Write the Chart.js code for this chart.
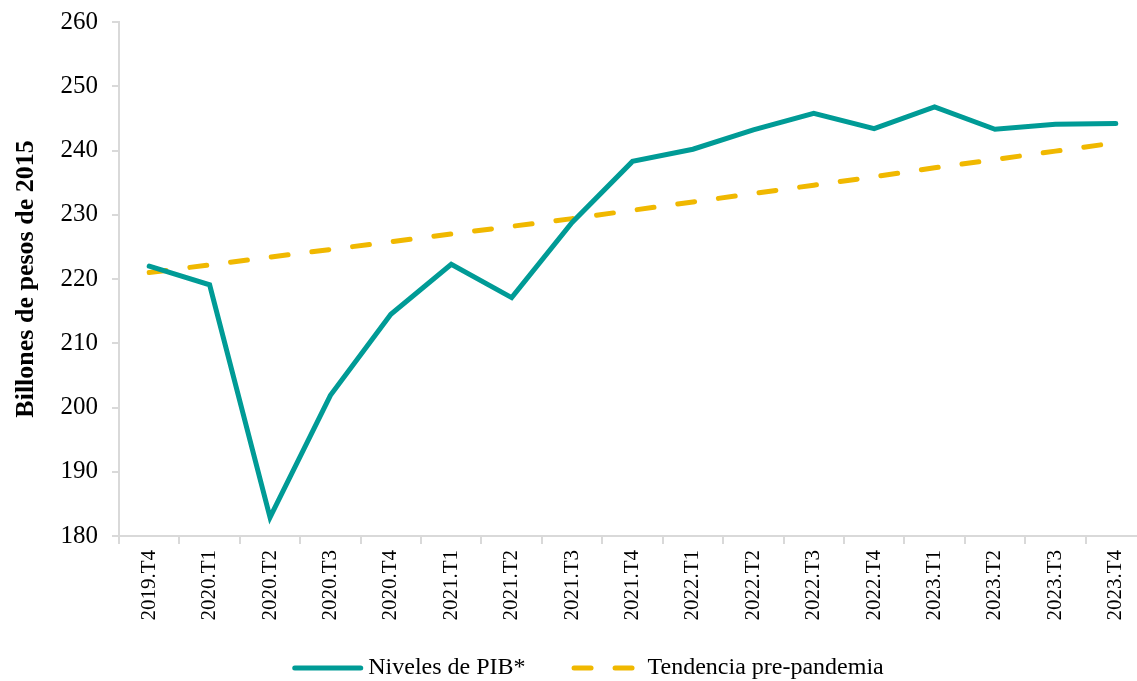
<!DOCTYPE html>
<html>
<head>
<meta charset="utf-8">
<script src="https://cdn.jsdelivr.net/npm/chart.js@4/dist/chart.umd.min.js"></script>
<style>
  html, body { margin: 0; padding: 0; background: #fff; overflow: hidden; }
  #wrap { position: relative; width: 1150px; height: 681px; }
</style>
</head>
<body>
<div id="wrap"><canvas id="pibChart"></canvas></div>
<script>
// trimestres
const quarters = ['2019.T4', '2020.T1', '2020.T2', '2020.T3', '2020.T4', '2021.T1', '2021.T2', '2021.T3',
  '2021.T4', '2022.T1', '2022.T2', '2022.T3', '2022.T4', '2023.T1', '2023.T2', '2023.T3', '2023.T4'];

// billones de pesos de 2015
const pibLevels = [222.0, 219.1, 182.9, 201.9, 214.5, 222.3, 217.1, 228.8, 238.3, 240.2, 243.2,
  245.8, 243.4, 246.8, 243.3, 244.1, 244.2];
const preTrend = [221.0, 222.2, 223.4, 224.6, 225.8, 227.0, 228.2, 229.4, 230.7, 232.0, 233.3,
  234.6, 235.9, 237.3, 238.6, 239.9, 241.2];

const yMin = 180;
const yMax = 260;
const yStep = 10;

const serif = "'Liberation Serif', 'Times New Roman', serif";
const axisGrey = '#d9d9d9';

// leyenda dibujada a mano: la de Chart.js no respeta el guion con pointStyle 'line'
const legendCenterX = 588;
const legendY = 668;

const bottomLegend = {
  id: 'bottomLegend',
  afterDraw(chart) {
    const c = chart.ctx;
    const boxW = 71, textGap = 5, itemGap = 46;
    c.save();
    c.font = `24px ${serif}`;
    c.textBaseline = 'middle';
    c.textAlign = 'left';
    const items = chart.data.datasets.map(ds => ({ ds, w: c.measureText(ds.label).width }));
    const total = items.reduce((s, it) => s + boxW + textGap + it.w, 0) + itemGap * (items.length - 1);
    let x = legendCenterX - total / 2;
    items.forEach(it => {
      const ds = it.ds;
      c.strokeStyle = ds.borderColor;
      c.lineWidth = ds.borderWidth;
      c.lineCap = 'round';
      c.setLineDash(ds.borderDash || []);
      c.beginPath();
      c.moveTo(x + 2.5, legendY);
      c.lineTo(x + boxW - 2.5, legendY);
      c.stroke();
      c.setLineDash([]);
      c.fillStyle = '#000';
      c.fillText(ds.label, x + boxW + textGap, legendY);
      x += boxW + textGap + it.w + itemGap;
    });
    c.restore();
  }
};

const ctx = document.getElementById('pibChart').getContext('2d');
const chart = new Chart(ctx, {
  type: 'line',
  data: {
    labels: quarters,
    datasets: [{
      label: 'Niveles de PIB*',
      data: pibLevels,
      borderColor: '#009b96',
      backgroundColor: '#009b96',
      borderWidth: 5,
      borderCapStyle: 'round',
      borderJoinStyle: 'miter',
      pointRadius: 0,
      tension: 0
    }, {
      label: 'Tendencia pre-pandemia',
      data: preTrend,
      borderColor: '#f0b800',
      backgroundColor: '#f0b800',
      borderWidth: 5,
      borderDash: [17, 24],
      borderCapStyle: 'round',
      pointRadius: 0,
      tension: 0
    }]
  },
  options: {
    responsive: true,
    maintainAspectRatio: false,
    animation: false,
    layout: { padding: { top: 22, right: 4, bottom: 35, left: 0 } },
    scales: {
      x: {
        offset: true,
        grid: { offset: true, drawOnChartArea: false, tickLength: 8, color: axisGrey, lineWidth: 2 },
        border: { color: axisGrey, width: 2 },
        ticks: {
          color: '#000',
          font: { family: serif, size: 21 },
          maxRotation: 90,
          minRotation: 90,
          autoSkip: false,
          padding: 6
        },
        afterFit(scale) { scale.height = 110; }
      },
      y: {
        min: yMin,
        max: yMax,
        grid: { drawOnChartArea: false, tickLength: 7, color: axisGrey, lineWidth: 2 },
        border: { color: axisGrey, width: 2 },
        ticks: {
          stepSize: yStep,
          color: '#000',
          // lineHeight bajo para que el relleno superior no empuje el area del grafico
          font: { family: serif, size: 25, lineHeight: 0.6 },
          padding: 14
        },
        title: {
          display: true,
          text: 'Billones de pesos de 2015',
          color: '#000',
          font: { family: serif, size: 26, weight: 'bold' },
          padding: { top: 11, bottom: 0 }
        },
        afterFit(scale) { scale.width = 119; }
      }
    },
    plugins: {
      legend: { display: false },
      tooltip: { enabled: false }
    }
  },
  plugins: [bottomLegend]
});
</script>
</body>
</html>
